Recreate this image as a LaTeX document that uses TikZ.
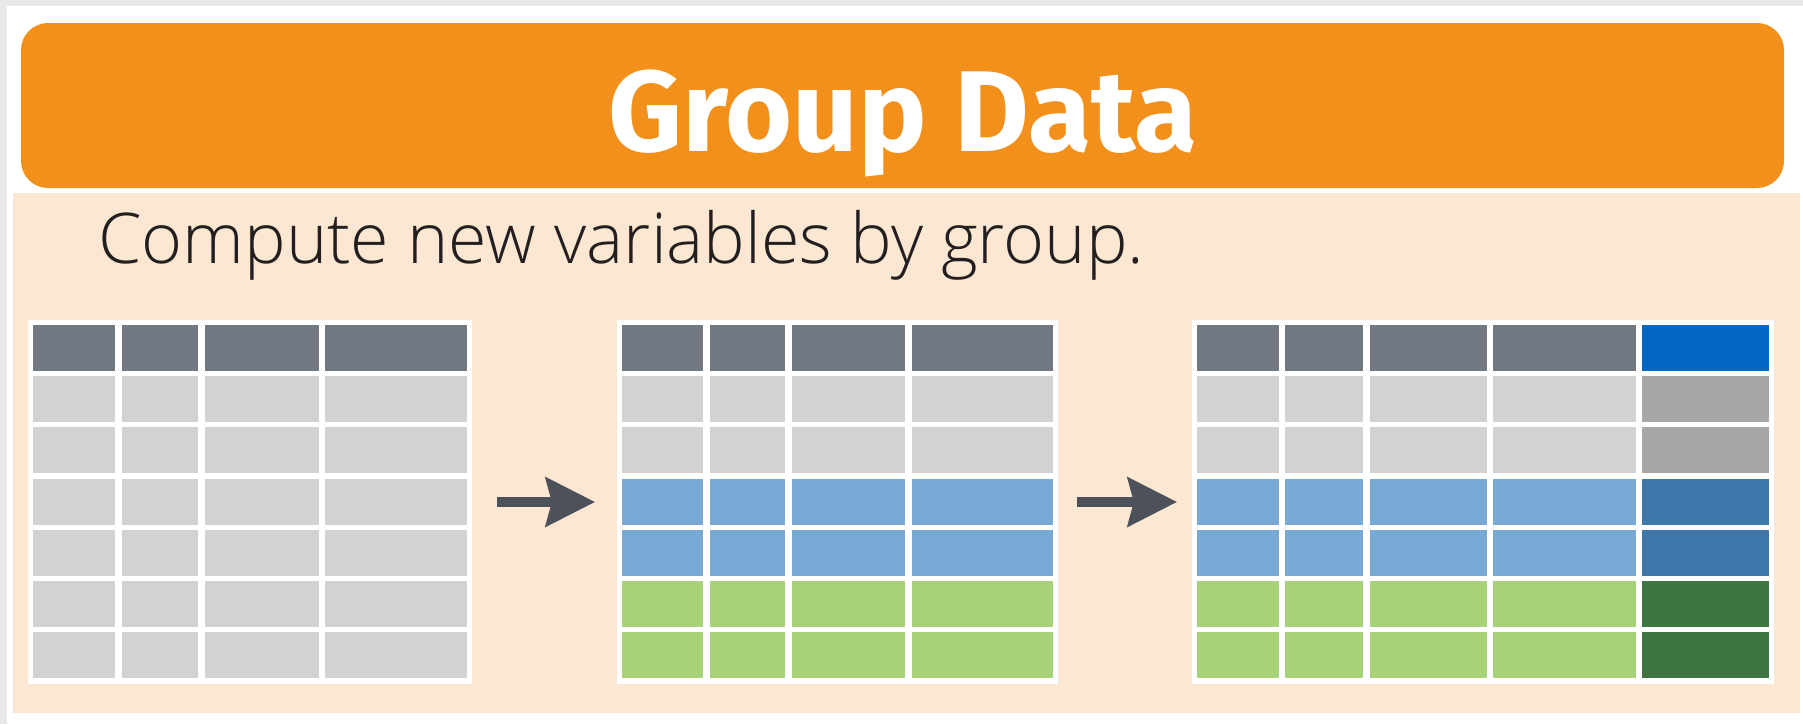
\documentclass[tikz,border=0pt]{standalone}
\usepackage{fontspec}
\setmainfont{Fira Sans}
\IfFontExistsTF{Open Sans Light}{\newfontfamily\lightfont{Open Sans Light}\def\subsize{70}}{%
  \IfFontExistsTF{Lato Light}{\newfontfamily\lightfont{Lato Light}\def\subsize{72}}{%
    \newfontfamily\lightfont{Fira Sans}\def\subsize{72}}}
\newfontfamily\boldfont{Fira Sans Bold}
\usetikzlibrary{arrows.meta}
\definecolor{outerc}{HTML}{E8E8E8}
\definecolor{orangec}{HTML}{F2901B}
\definecolor{beigec}{HTML}{FCE7D2}
\definecolor{hdr}{HTML}{737983}
\definecolor{lg}{HTML}{D1D2D4}
\definecolor{blu}{HTML}{78A9D5}
\definecolor{grn}{HTML}{A8D27A}
\definecolor{nhdr}{HTML}{0366C2}
\definecolor{ngr}{HTML}{A6A8A7}
\definecolor{nblu}{HTML}{3E78AA}
\definecolor{ngrn}{HTML}{3F7541}
\definecolor{arrowc}{HTML}{4D5159}
\definecolor{textc}{HTML}{231F20}
\tikzset{
  banner/.style={rectangle, rounded corners=27pt, fill=orangec, inner sep=0pt, minimum width=1763pt, minimum height=165pt},
  bodybox/.style={rectangle, fill=beigec, inner sep=0pt, minimum width=1787pt, minimum height=520pt},
  titletext/.style={text=white, font=\boldfont\fontsize{115}{115}\selectfont, inner sep=0pt},
  subtext/.style={text=textc, font=\lightfont\fontsize{\subsize}{\subsize}\selectfont, inner sep=0pt},
  tablebg/.style={rectangle, fill=white, inner sep=0pt, minimum height=364pt},
  bigarrow/.style={line width=10pt, draw=arrowc, -{Stealth[length=50pt,width=51pt,inset=7pt,line width=0pt]}}
}
\begin{document}
\begin{tikzpicture}[x=1pt,y=-1pt]
\useasboundingbox (0,0) rectangle (1803,724);
\fill[outerc] (0,0) rectangle (1803,724);
\fill[white] (7,6) rectangle (1803,724);
\node[banner] (banner) at (902.5,105.5) {};
\node[titletext, anchor=base] (title) at (903,151) {Group Data};
\node[bodybox] (body) at (906.5,453) {};
\node[subtext, anchor=base west] (sub) at (98,263) {Compute new variables by group.};
% tables
\node[tablebg, minimum width=444pt] (t1) at (250,502) {};
\node[tablebg, minimum width=441pt] (t2) at (837.5,502) {};
\node[tablebg, minimum width=582pt] (t3) at (1483,502) {};
% table 1 cells
\foreach \xa/\xb in {33/115,122/198,205/319,325/467} {
  \foreach \r/\col in {0/hdr,1/lg,2/lg,3/lg,4/lg,5/lg,6/lg} {
    \fill[fill=\col] (\xa,{325+\r*51.2}) rectangle (\xb,{371+\r*51.2});
  }
}
% table 2 cells
\foreach \xa/\xb in {622/703,710/785,792/905,912/1053} {
  \foreach \r/\col in {0/hdr,1/lg,2/lg,3/blu,4/blu,5/grn,6/grn} {
    \fill[fill=\col] (\xa,{325+\r*51.2}) rectangle (\xb,{371+\r*51.2});
  }
}
% table 3 cells
\foreach \xa/\xb in {1197/1279,1285/1363,1370/1487,1493/1636} {
  \foreach \r/\col in {0/hdr,1/lg,2/lg,3/blu,4/blu,5/grn,6/grn} {
    \fill[fill=\col] (\xa,{325+\r*51.2}) rectangle (\xb,{371+\r*51.2});
  }
}
\foreach \r/\col in {0/nhdr,1/ngr,2/ngr,3/nblu,4/nblu,5/ngrn,6/ngrn} {
  \fill[fill=\col] (1642,{325+\r*51.2}) rectangle (1769,{371+\r*51.2});
}
% arrows
\draw[bigarrow, shorten <=25pt, shorten >=22pt] (t1.east) -- (t2.west);
\draw[bigarrow, shorten <=19pt, shorten >=15pt] (t2.east) -- (t3.west);
\end{tikzpicture}
\end{document}
